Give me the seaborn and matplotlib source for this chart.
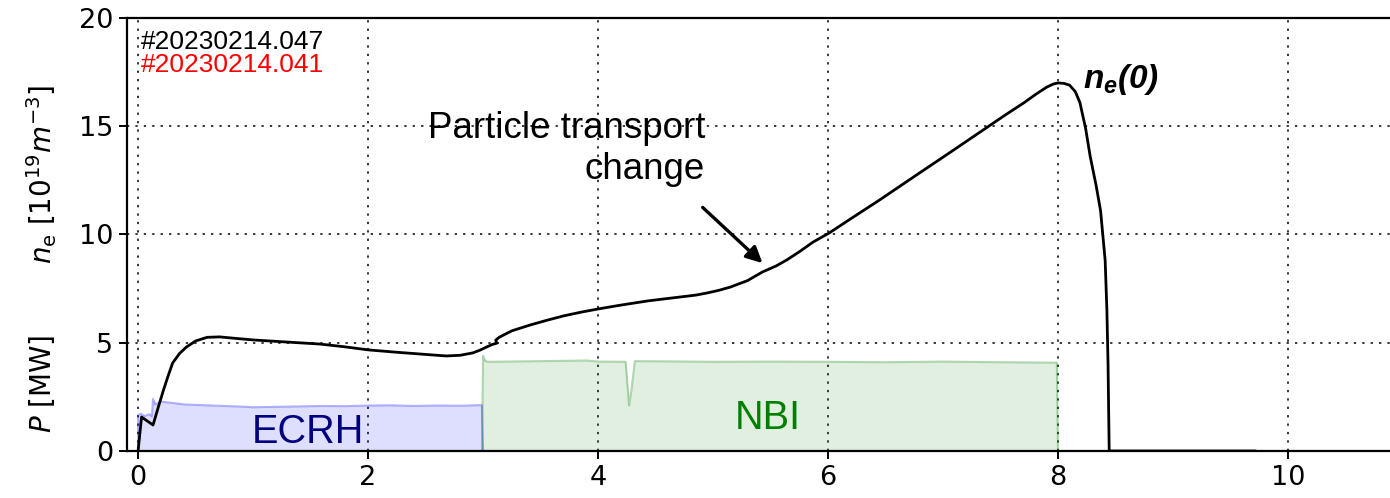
import numpy as np
import pandas as pd
import matplotlib
matplotlib.use("Agg")
import matplotlib.pyplot as plt
import seaborn as sns

# Central electron density n_e(0) of shot #20230214.047, in 1e19 m^-3
ne_t = [0.00, 0.03, 0.13, 0.18, 0.22, 0.26, 0.30, 0.36, 0.42, 0.50, 0.60, 0.71,
        0.85, 1.00, 1.30, 1.58, 1.80, 2.00, 2.25, 2.45, 2.60, 2.68, 2.80, 2.91,
        2.97, 3.03, 3.08, 3.12, 3.11, 3.14, 3.18, 3.25, 3.41, 3.55, 3.70, 3.85,
        4.00, 4.20, 4.43, 4.60, 4.71, 4.85, 4.95, 5.05, 5.15, 5.30, 5.43, 5.55,
        5.64, 5.75, 5.87, 6.01, 6.19, 6.45, 6.77, 7.05, 7.35, 7.55, 7.70, 7.80,
        7.90, 7.96, 8.00, 8.05, 8.10, 8.15, 8.19, 8.24, 8.28, 8.33, 8.37, 8.41,
        8.425, 8.435, 8.44, 8.445, 9.72]
ne_v = [0.00, 1.57, 1.20, 2.10, 2.80, 3.45, 4.06, 4.50, 4.80, 5.08, 5.25, 5.27,
        5.20, 5.13, 5.03, 4.94, 4.81, 4.67, 4.56, 4.48, 4.42, 4.39, 4.42, 4.53,
        4.65, 4.80, 4.92, 4.98, 5.12, 5.25, 5.36, 5.55, 5.82, 6.03, 6.24, 6.41,
        6.56, 6.74, 6.93, 7.04, 7.11, 7.20, 7.30, 7.42, 7.57, 7.87, 8.27, 8.55,
        8.82, 9.20, 9.65, 10.07, 10.70, 11.60, 12.75, 13.75, 14.83, 15.55, 16.07,
        16.45, 16.80, 16.95, 17.00, 16.98, 16.90, 16.60, 16.10, 14.90, 13.60,
        12.30, 11.10, 8.80, 6.50, 4.00, 2.00, 0.00, 0.00]

# ECRH heating power [MW]
ecrh_t = [0.00, 0.00, 0.02, 0.06, 0.10, 0.12, 0.13, 0.15, 0.20, 0.30, 0.40, 0.55,
          0.75, 0.90, 1.00, 1.20, 1.40, 1.60, 1.80, 2.00, 2.20, 2.40, 2.60, 2.80,
          2.99, 3.00, 10.9]
ecrh_v = [0.00, 1.65, 1.72, 1.62, 1.70, 1.60, 2.40, 2.15, 2.28, 2.22, 2.15, 2.12,
          2.08, 2.05, 2.02, 2.04, 2.06, 2.08, 2.07, 2.10, 2.11, 2.08, 2.10, 2.09,
          2.12, 0.00, 0.00]

# NBI heating power [MW]
nbi_t = [0.00, 2.99, 3.00, 3.02, 3.05, 3.50, 3.90, 4.00, 4.24, 4.26, 4.27, 4.29,
         4.32, 4.60, 5.00, 5.50, 6.00, 6.50, 7.00, 7.50, 7.99, 8.00, 10.9]
nbi_v = [0.00, 0.00, 4.40, 4.15, 4.12, 4.15, 4.18, 4.13, 4.12, 2.80, 2.10, 2.80,
         4.15, 4.14, 4.12, 4.13, 4.12, 4.10, 4.13, 4.10, 4.08, 0.00, 0.00]

x_ticks = [0, 2, 4, 6, 8, 10]
y_ticks = [0, 5, 10, 15, 20]
shots = ["#20230214.047", "#20230214.041"]
shot_colors = ["black", "red"]

sns.set_theme(style="ticks")
plt.rcParams["font.family"] = ["DejaVu Sans"]
plt.rcParams["text.color"] = "black"
plt.rcParams["axes.labelcolor"] = "black"
plt.rcParams["mathtext.fontset"] = "dejavusans"
plt.rcParams["mathtext.it"] = "Liberation Sans:italic:bold"
plt.rcParams["mathtext.rm"] = "Liberation Sans:bold"
plt.rcParams["mathtext.bf"] = "Liberation Sans:bold"

fig = plt.figure(figsize=(13.9, 4.98), dpi=100)
ax = fig.add_axes([0.0914, 0.0944, 1.0 - 0.0914, 0.9639 - 0.0944])

ecrh = pd.DataFrame({"t": ecrh_t, "P": ecrh_v})
nbi = pd.DataFrame({"t": nbi_t, "P": nbi_v})
ne = pd.DataFrame({"t": ne_t, "ne": ne_v})

ax.fill_between(ecrh["t"], 0, ecrh["P"], color="blue", alpha=0.13, lw=0)
sns.lineplot(data=ecrh, x="t", y="P", ax=ax, color="blue", alpha=0.3, lw=1.5,
             estimator=None, sort=False)
ax.fill_between(nbi["t"], 0, nbi["P"], color="green", alpha=0.12, lw=0)
sns.lineplot(data=nbi, x="t", y="P", ax=ax, color="green", alpha=0.3, lw=1.5,
             estimator=None, sort=False)
sns.lineplot(data=ne, x="t", y="ne", ax=ax, color="black", lw=2.0,
             estimator=None, sort=False)

ax.set_xlim(-0.096, 10.887)
ax.set_ylim(0, 20)
ax.set_xticks(x_ticks)
ax.set_yticks(y_ticks)
ax.set_xlabel("")
ax.set_ylabel("")
ax.tick_params(axis="both", labelsize=19.5, direction="out", length=6,
               width=1.4, colors="black", pad=4)
ax.grid(True, color="black", linestyle=(0, (1.5, 4)), lw=1.1)
for side in ["left", "bottom", "top"]:
    ax.spines[side].set_color("black")
    ax.spines[side].set_linewidth(1.6)
ax.spines["right"].set_visible(False)

# Shot identifiers
for i, (s, c) in enumerate(zip(shots, shot_colors)):
    ax.text(0.02, 18.9 - i * 1.07, s, color=c, fontsize=19,
            family="Liberation Sans", va="center", ha="left")

# Heating labels
ax.text(1.48, 0.38, "ECRH", color="#000080", fontsize=28.5,
        family="Liberation Sans", ha="center", va="baseline")
ax.text(5.48, 1.0, "NBI", color="#008000", fontsize=28.5,
        family="Liberation Sans", ha="center", va="baseline")

# Density trace label
ax.text(8.22, 16.75, r"$n_e$(0)", fontsize=24, family="Liberation Sans",
        fontweight="bold", fontstyle="italic", math_fontfamily="custom",
        ha="left", va="baseline")

# Arrow marking the change in particle transport
ax.text(4.93, 13.95, "Particle transport\nchange", fontsize=26.5,
        family="Liberation Sans", ha="right", va="center", linespacing=1.22,
        multialignment="right")
ax.annotate("", xy=(5.43, 8.68), xytext=(4.91, 11.25),
            arrowprops=dict(arrowstyle="-|>", color="black", lw=2.4,
                            mutation_scale=24, shrinkA=0, shrinkB=0))

# Axis labels for the two quantities sharing the vertical axis
fig.text(0.030, 0.649, r"$n_\mathrm{e}$ [$10^{19}m^{-3}$]", rotation=90,
         fontsize=20, ha="center", va="center")
fig.text(0.030, 0.229, r"$P$ [MW]", rotation=90, fontsize=20,
         ha="center", va="center")

fig.savefig("out.png", dpi=100)
